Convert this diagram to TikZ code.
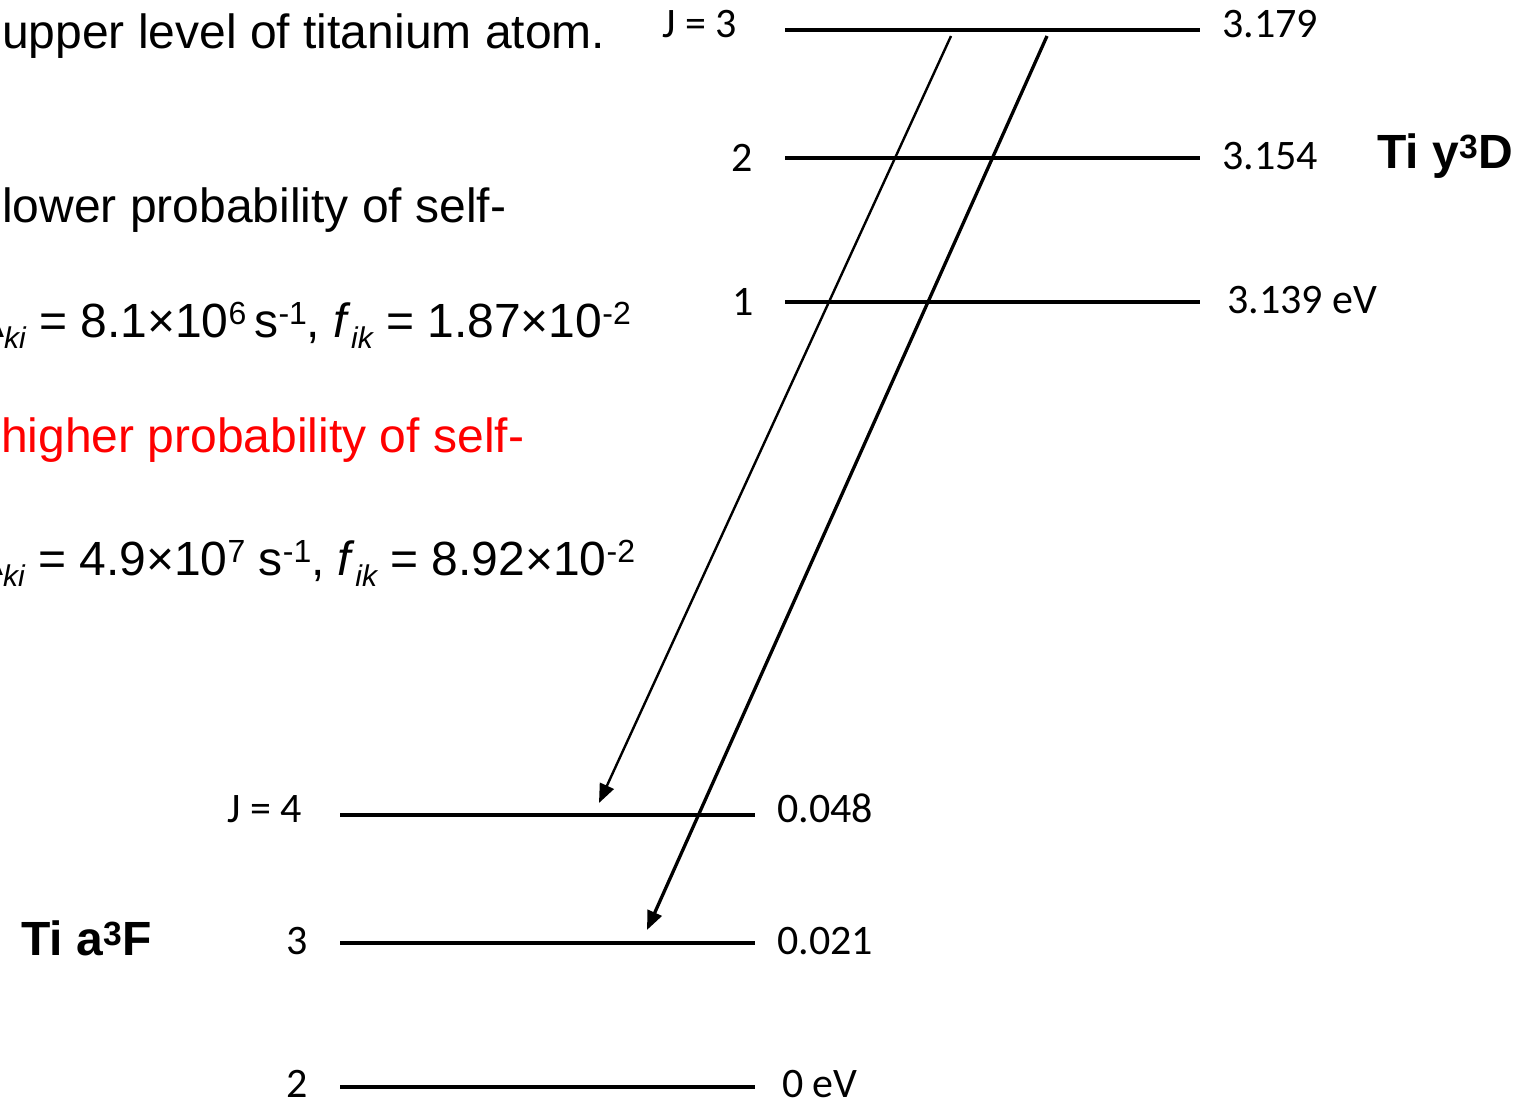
\documentclass[tikz,border=0pt]{standalone}
\usepackage{fontspec}
\setmainfont{Liberation Sans}
\newfontfamily\calibfont{Carlito}
\usetikzlibrary{arrows.meta}
\newcommand\mysup[1]{\raisebox{12.5pt}{\fontsize{32}{33}\selectfont #1}}
\newcommand\mysub[1]{\raisebox{-11pt}{\fontsize{30}{31}\selectfont\itshape #1}}
\begin{document}
\begin{tikzpicture}[x=1pt,y=-1pt,
  lvl/.style={line width=3.4pt},
  lab/.style={font=\calibfont\fontsize{42}{50}\selectfont, inner sep=0pt, anchor=base west},
  txt/.style={font=\fontsize{48}{58}\selectfont, inner sep=0pt, anchor=base west},
  ttl/.style={font=\bfseries\fontsize{48}{58}\selectfont, inner sep=0pt, anchor=base west},
  trans/.style={-{Triangle[length=19pt,width=15pt]}}]
\useasboundingbox (0,0) rectangle (1527,1101);
\clip (0,0) rectangle (1527,1101);
% left texts
\node[txt] (t1) at (2,48) {upper level of titanium atom.};
\node[txt] (t2) at (2,222) {lower probability of self-};
\node[txt] (t3) at (-28,337) {A\mysub{ki} = 8.1×10\mysup{6}\,s\mysup{-1}, \textit{f}\mysub{ik} = 1.87×10\mysup{-2}};
\node[txt, text=red] (t4) at (1,452) {higher probability of self-};
\node[txt] (t5) at (-29,575) {A\mysub{ki} = 4.9×10\mysup{7} s\mysup{-1}, \textit{f}\mysub{ik} = 8.92×10\mysup{-2}};
% upper levels
\coordinate (u3l) at (785,30);  \coordinate (u3r) at (1200,30);
\coordinate (u2l) at (785,158); \coordinate (u2r) at (1200,158);
\coordinate (u1l) at (785,302); \coordinate (u1r) at (1200,302);
\draw[lvl] (u3l) -- (u3r);
\draw[lvl] (u2l) -- (u2r);
\draw[lvl] (u1l) -- (u1r);
\node[lab] (uj3) at (662,37) {J = 3};
\node[lab] (uj2) at (731,171) {2};
\node[lab] (uj1) at (732,315) {1};
\node[lab] (ue3) at (1222,37) {3.179};
\node[lab] (ue2) at (1222,169) {3.154};
\node[lab] (ue1) at (1227,313) {3.139 eV};
\node[ttl] (uterm) at (1377,168) {Ti y\textsuperscript{3}D};
% lower levels
\coordinate (l4l) at (340,815);  \coordinate (l4r) at (755,815);
\coordinate (l3l) at (340,943);  \coordinate (l3r) at (755,943);
\coordinate (l2l) at (340,1087); \coordinate (l2r) at (755,1087);
\draw[lvl] (l4l) -- (l4r);
\draw[lvl] (l3l) -- (l3r);
\draw[lvl] (l2l) -- (l2r);
\node[lab] (lj4) at (227,822) {J = 4};
\node[lab] (lj3) at (286,954) {3};
\node[lab] (lj2) at (286,1097) {2};
\node[lab] (le4) at (777,822) {0.048};
\node[lab] (le3) at (777,954) {0.021};
\node[lab] (le2) at (782,1097) {0 eV};
\node[ttl] (lterm) at (21,955) {Ti a\textsuperscript{3}F};
% transitions
\coordinate (a1s) at (951,36);  \coordinate (a1e) at (599,803);
\coordinate (a2s) at (1047,36); \coordinate (a2e) at (647,930);
\draw[trans, line width=2.4pt] (a1s) -- (a1e);
\draw[trans, line width=3.3pt] (a2s) -- (a2e);
\end{tikzpicture}
\end{document}
